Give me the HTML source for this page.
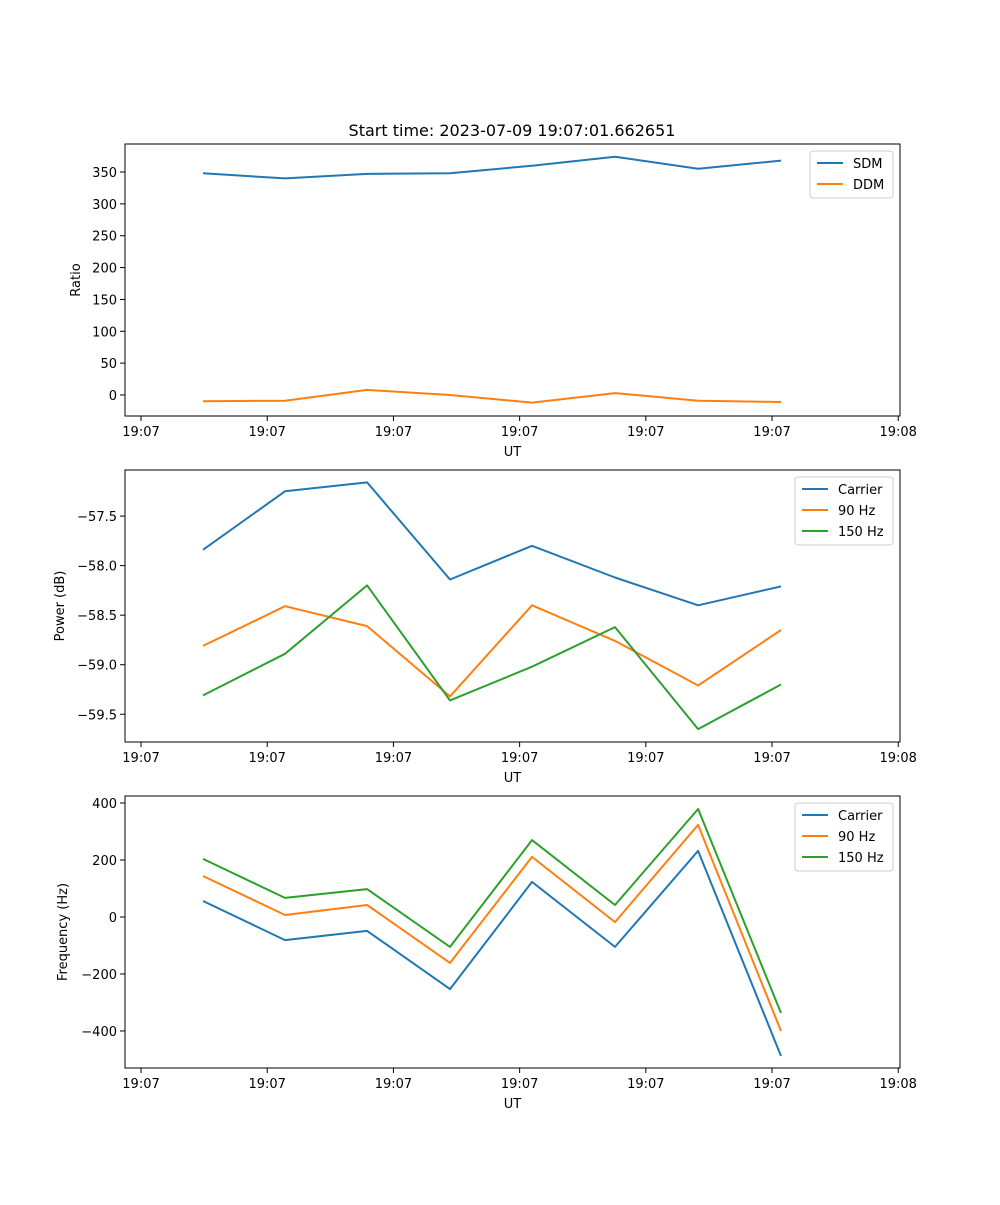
<!DOCTYPE html>
<html><head><meta charset="utf-8"><style>
body{margin:0;background:#fff}
svg text{font-family:"DejaVu Sans","Liberation Sans",sans-serif;fill:#000}
</style></head><body>
<svg id="fig" width="1000" height="1200" xmlns="http://www.w3.org/2000/svg">
<text x="512" y="136" font-size="16" text-anchor="middle">Start time: 2023-07-09 19:07:01.662651</text>
</svg>
<script>
const timeTicks=[0,1,2,3,4,5,6];
const tickLabels=["19:07","19:07","19:07","19:07","19:07","19:07","19:08"];
const times=[0.491,1.141,1.791,2.448,3.098,3.756,4.414,5.071];
const sdm=[348,340,347,348,360,374,355,368];
const ddm=[-10,-9,8,0,-12,3,-9,-11];
const powCarrier=[-57.84,-57.25,-57.16,-58.14,-57.80,-58.12,-58.40,-58.21];
const pow90=[-58.81,-58.41,-58.61,-59.32,-58.40,-58.76,-59.21,-58.65];
const pow150=[-59.31,-58.89,-58.20,-59.36,-59.02,-58.62,-59.65,-59.20];
const freqCarrier=[56,-81,-49,-253,123,-105,232,-488];
const freq90=[144,7,42,-161,211,-18,323,-400];
const freq150=[204,67,98,-105,270,42,379,-337];
const ratioTicks=[0,50,100,150,200,250,300,350];
const powTicks=[-57.5,-58.0,-58.5,-59.0,-59.5];
const freqTicks=[400,200,0,-200,-400];

const svg=document.getElementById('fig');
const NS="http://www.w3.org/2000/svg";
const L=125,R=900,XMIN=-0.127,XMAX=6.014;
function xs(v){return L+(v-XMIN)/(XMAX-XMIN)*(R-L);}
function mk(tag,attrs,parent){const e=document.createElementNS(NS,tag);for(const k in attrs)e.setAttribute(k,attrs[k]);(parent||svg).appendChild(e);return e;}

function panel(name,top,bottom,ymin,ymax,yt,fmt,ylabel,series,legend){
  const g=mk('g',{});
  
  
  const ys=v=>bottom-(v-ymin)/(ymax-ymin)*(bottom-top);
  series.forEach(s=>{
    const pts=s.vals.map((v,i)=>xs(times[i]).toFixed(1)+','+ys(v).toFixed(1)).join(' ');
    const p=mk('polyline',{points:pts,fill:'none',stroke:s.color,'stroke-width':2,'stroke-linejoin':'round'},g);
    
    
  });
  const f=mk('rect',{x:L,y:top,width:R-L,height:bottom-top,fill:'none',stroke:'#000','stroke-width':1},g);
  
  
  timeTicks.forEach((t,i)=>{
    const x=xs(t);
    mk('line',{x1:x,x2:x,y1:bottom,y2:bottom+5,stroke:'#000'},g);
    const tx=mk('text',{x:x,y:bottom+20,'font-size':13,'text-anchor':'middle'},g);
    tx.textContent=tickLabels[i];
    
    
  });
  const xl=mk('text',{x:(L+R)/2,y:bottom+40,'font-size':13,'text-anchor':'middle'},g);
  xl.textContent='UT';
  
  
  yt.forEach(v=>{
    const y=ys(v);
    mk('line',{x1:L-5,x2:L,y1:y,y2:y,stroke:'#000'},g);
    const tx=mk('text',{x:L-8,y:y+5,'font-size':13,'text-anchor':'end'},g);
    tx.textContent=fmt(v);
    
    
  });
  const yl=mk('text',{x:0,y:0,'font-size':13,'text-anchor':'middle',transform:`translate(${legend.ylx},${(top+bottom)/2}) rotate(-90)`},g);
  yl.textContent=ylabel;
  
  
  const lg=mk('g',{},g);
  
  
  mk('rect',{x:legend.x,y:top+7,width:legend.w,height:series.length*21+5,rx:3,fill:'#fff','fill-opacity':0.8,stroke:'#ccc'},lg);
  series.forEach((s,i)=>{
    const y=top+19+i*21;
    mk('line',{x1:legend.x+7,x2:legend.x+33,y1:y,y2:y,stroke:s.color,'stroke-width':2},lg);
    const tx=mk('text',{x:legend.x+43,y:y+5,'font-size':13},lg);
    tx.textContent=s.label;
    
    
  });
}
const C1='#1f77b4',C2='#ff7f0e',C3='#2ca02c';
panel('ratio-panel',144,416,-33,394,ratioTicks,v=>String(v),'Ratio',
  [{id:'sdm-line',label:'SDM',vals:sdm,color:C1},{id:'ddm-line',label:'DDM',vals:ddm,color:C2}],{x:810,w:83,ylx:80});
panel('power-panel',470,742,-59.78,-57.035,powTicks,v=>'\u2212'+Math.abs(v).toFixed(1),'Power (dB)',
  [{id:'carrier-power-line',label:'Carrier',vals:powCarrier,color:C1},{id:'90hz-power-line',label:'90 Hz',vals:pow90,color:C2},{id:'150hz-power-line',label:'150 Hz',vals:pow150,color:C3}],{x:795,w:98,ylx:64});
panel('frequency-panel',796,1068,-530,424.6,freqTicks,v=>v<0?'\u2212'+Math.abs(v):String(v),'Frequency (Hz)',
  [{id:'carrier-freq-line',label:'Carrier',vals:freqCarrier,color:C1},{id:'90hz-freq-line',label:'90 Hz',vals:freq90,color:C2},{id:'150hz-freq-line',label:'150 Hz',vals:freq150,color:C3}],{x:795,w:98,ylx:67});
</script>
</body></html>
